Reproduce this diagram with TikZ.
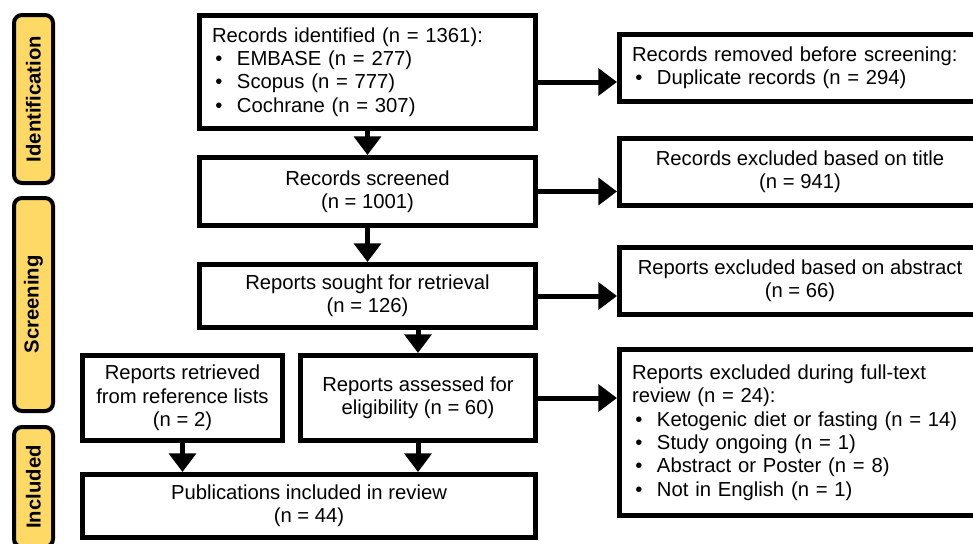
\documentclass[tikz,border=0pt]{standalone}
\usepackage{fontspec}
\setmainfont{Liberation Sans}
\usetikzlibrary{arrows.meta}
\usetikzlibrary{positioning}

\definecolor{phasefill}{HTML}{FFD966}
\newcommand{\fs}{\fontsize{15.2pt}{17.6pt}\selectfont}
\newcommand{\bitem}{\makebox[18.75pt][l]{\hspace{2.5pt}\textbullet}}

\tikzset{
    box/.style={draw, line width=3.75pt, inner sep=0pt, align=center, font=\fs},
    listbox/.style={draw, line width=3.75pt, inner xsep=9.4pt, inner ysep=0pt, align=left, font=\fs},
    phase/.style={draw, line width=3pt, fill=phasefill, rounded corners=6pt, rotate=90,
        inner sep=0pt, minimum height=29.25pt, font=\fs\bfseries},
    arr/.style={line width=3.75pt, -{Triangle[width=20pt,length=14pt]}}
}

\begin{document}
\begin{tikzpicture}[x=0.75pt,y=-0.75pt]
            \useasboundingbox (0,0) rectangle (973,543);
            % phase bars on the left
            \foreach \n/\y/\h/\t in {id/99/126/Identification,scr/304.5/159.75/Screening,inc/487/90/Included}
                \node[phase, minimum width=\h pt] (bar\n) at (33.5,\y) {\t};
            % main column
            \node[listbox, text width=233.25pt, minimum height=84.75pt] (ident) at (367.5,72)
                {Records identified (n = 1361):\\
                 \bitem EMBASE (n = 277)\\
                 \bitem Scopus (n = 777)\\
                 \bitem Cochrane (n = 307)};
            \node[box, minimum width=252pt, minimum height=51pt] (screen) at (367.5,191.5)
                {Records screened\\(n = 1001)};
            \node[box, minimum width=252pt, minimum height=47.25pt] (sought) at (367.5,296)
                {Reports sought for retrieval\\(n = 126)};
            \node[box, minimum width=176.25pt, minimum height=63.75pt] (assess) at (418,398)
                {Reports assessed for\\eligibility (n = 60)};
            \node[box, minimum width=150pt, minimum height=63.75pt] (refs) at (182.5,398)
                {Reports retrieved\\from reference lists\\(n = 2)};
            \node[box, minimum width=339.75pt, minimum height=47.25pt] (incl) at (309,506)
                {Publications included in review\\(n = 44)};
            % exclusions on the right
            \node[listbox, text width=252pt, minimum height=50.25pt] (dupl) at (800,68)
                {Records removed before screening:\\
                 \bitem Duplicate records (n = 294)};
            \node[box, minimum width=270.75pt, minimum height=50.25pt] (title) at (800,172)
                {Records excluded based on title\\(n = 941)};
            \node[box, minimum width=270.75pt, minimum height=50.25pt] (abstr) at (800,281)
                {Reports excluded based on abstract\\(n = 66)};
            \node[listbox, text width=252pt, minimum height=124.5pt] (full) at (800,432.5)
                {Reports excluded during full-text\\
                 review (n = 24):\\
                 \bitem Ketogenic diet or fasting (n = 14)\\
                 \bitem Study ongoing (n = 1)\\
                 \bitem Abstract or Poster (n = 8)\\
                 \bitem Not in English (n = 1)};
            % arrows down
            \draw[arr] (ident) -- (screen);
            \draw[arr] (screen) -- (sought);
            \draw[arr] (assess.north |- sought.south) -- (assess.north);
            \draw[arr] (refs.south) -- (refs.south |- incl.north);
            \draw[arr] (assess.south) -- (assess.south |- incl.north);
            % arrows right
            \coordinate (a1) at ([yshift=-7.5pt]ident.east);
            \draw[arr] (a1) -- (a1 -| dupl.west);
            \foreach \a/\b in {screen/title,sought/abstr,assess/full}
                \draw[arr] (\a.east) -- (\a.east -| \b.west);
        \end{tikzpicture}
\end{document}
